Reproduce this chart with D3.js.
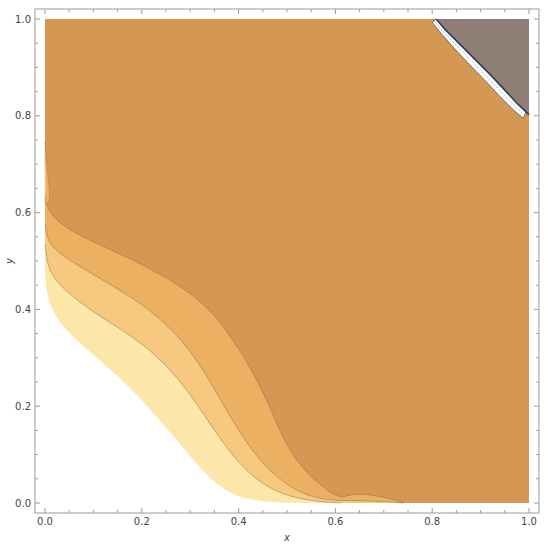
<!DOCTYPE html>
<html>
<head>
<meta charset="utf-8">
<script src="https://cdn.jsdelivr.net/npm/d3@7"></script>
<style>
  body { margin: 0; background: #fff; }
  svg { display: block; }
  text { font-family: "DejaVu Sans", sans-serif; fill: #444; }
</style>
</head>
<body>
<div id="chart"></div>
<script>
// contour boundaries, [x, y] in data units,
// each running from the left edge (x = 0) down to the bottom edge (y = 0)
var levelA = [[0,0.47],[0.003,0.44],[0.010,0.41],[0.025,0.38],[0.050,0.35],[0.090,0.315],
  [0.130,0.28],[0.175,0.24],[0.215,0.195],[0.255,0.150],[0.295,0.103],[0.330,0.062],
  [0.365,0.030],[0.405,0.010],[0.455,0.002],[0.52,0]];
var levelB = [[0,0.535],[0.004,0.50],[0.012,0.475],[0.030,0.450],[0.065,0.420],[0.110,0.388],
  [0.160,0.357],[0.210,0.322],[0.255,0.280],[0.295,0.232],[0.330,0.180],[0.365,0.128],
  [0.400,0.083],[0.440,0.045],[0.485,0.020],[0.530,0.008],[0.575,0.002],[0.61,0]];
var levelC = [[0,0.575],[0.004,0.55],[0.015,0.528],[0.045,0.505],[0.100,0.472],[0.160,0.437],
  [0.215,0.400],[0.260,0.360],[0.300,0.315],[0.335,0.262],[0.370,0.200],[0.405,0.142],
  [0.440,0.092],[0.480,0.052],[0.520,0.025],[0.560,0.010],[0.600,0.005],[0.640,0.005],
  [0.690,0.004],[0.740,0]];
var levelD = [[0,0.625],[0.010,0.600],[0.030,0.578],[0.070,0.554],[0.120,0.530],[0.180,0.503],
  [0.240,0.472],[0.295,0.438],[0.340,0.400],[0.372,0.360],[0.405,0.312],[0.428,0.272],
  [0.450,0.230],[0.471,0.184],[0.492,0.132],[0.521,0.085],[0.554,0.050],[0.585,0.024],
  [0.612,0.010],[0.625,0.016],[0.645,0.019],[0.680,0.016],[0.715,0.009],[0.740,0]];

// thin strip along the left edge above the dark level
var leftStrip = [[0,0.745],[0.003,0.71],[0.006,0.675],[0.009,0.645],[0.010,0.628],[0.005,0.62],[0,0.618]];
var leftStripInner = [[0,0.72],[0.002,0.68],[0.003,0.645],[0,0.63]];

// top right grey region and the white sliver below it
var greyEdge = [[0.808,1.0],[0.826,0.979],[0.857,0.948],[0.888,0.917],[0.919,0.886],
  [0.950,0.853],[0.977,0.824],[0.994,0.808],[1,0.802]];
var sliverEdge = [[0.800,0.993],[0.815,0.974],[0.845,0.940],[0.878,0.905],[0.910,0.872],
  [0.942,0.838],[0.970,0.810],[0.988,0.795]];

var levelColors = ["#fde6aa", "#f6c880", "#ecb062", "#d49754"];
var greyColor = "#8f7e76";

var xTicks = [0, 0.2, 0.4, 0.6, 0.8, 1.0];
var yTicks = [0, 0.2, 0.4, 0.6, 0.8, 1.0];

(function() {
    var W = 550, H = 548;
    var frame = { left: 35, right: 539, top: 9, bottom: 513 };
    var pad = 10 / 484;

    var x = d3.scaleLinear().domain([-pad, 1 + pad]).range([frame.left, frame.right]);
    var y = d3.scaleLinear().domain([-pad, 1 + pad]).range([frame.bottom, frame.top]);

    var svg = d3.select("#chart").append("svg")
        .attr("width", W).attr("height", H);

    var smooth = d3.line().x(function(d) { return x(d[0]); }).y(function(d) { return y(d[1]); })
        .curve(d3.curveBasis);
    var straight = d3.line().x(function(d) { return x(d[0]); }).y(function(d) { return y(d[1]); });

    // region above a level: top left corner, down the left edge, along the level, round the right side
    function regionAbove(pts) {
        var last = pts[pts.length - 1];
        return "M" + x(0) + "," + y(1) + "L" + x(0) + "," + y(pts[0][1]) +
            smooth(pts).replace(/^M/, "L") +
            "L" + x(last[0]) + "," + y(0) + "L" + x(1) + "," + y(0) + "L" + x(1) + "," + y(1) + "Z";
    }

    var plot = svg.append("g");

    [levelA, levelB, levelC, levelD].forEach(function(pts, i) {
        plot.append("path")
            .attr("d", regionAbove(pts))
            .attr("fill", levelColors[i]);
    });

    // contour lines
    [levelB, levelC, levelD].forEach(function(pts) {
        plot.append("path")
            .attr("d", smooth(pts))
            .attr("fill", "none")
            .attr("stroke", "#8a6a45")
            .attr("stroke-opacity", 0.6)
            .attr("stroke-width", 0.8);
    });

    plot.append("path")
        .attr("d", smooth(leftStrip) + "Z")
        .attr("fill", levelColors[2])
        .attr("stroke", "#8a6a45").attr("stroke-opacity", 0.5).attr("stroke-width", 0.6);
    plot.append("path")
        .attr("d", smooth(leftStripInner) + "Z")
        .attr("fill", levelColors[1]);

    // white sliver
    var sliver = greyEdge.slice(0, greyEdge.length - 1).concat(sliverEdge.slice().reverse());
    plot.append("path")
        .attr("d", straight(sliver) + "Z")
        .attr("fill", "#fff")
        .attr("stroke", "#555").attr("stroke-width", 0.8);
    plot.append("path")
        .attr("d", straight(sliverEdge.map(function(d, i) {
            var g = greyEdge[Math.min(i, greyEdge.length - 1)];
            return [(d[0] + g[0]) / 2, (d[1] + g[1]) / 2];
        })))
        .attr("fill", "none")
        .attr("stroke", "#888").attr("stroke-width", 0.8)
        .attr("stroke-dasharray", "1.5,2");

    // grey region
    plot.append("path")
        .attr("d", straight(greyEdge) + "L" + x(1) + "," + y(1) + "Z")
        .attr("fill", greyColor);
    plot.append("path")
        .attr("d", straight(greyEdge))
        .attr("fill", "none")
        .attr("stroke", "#2e3d63").attr("stroke-width", 1.6);

    // frame
    svg.append("rect")
        .attr("x", frame.left).attr("y", frame.top)
        .attr("width", frame.right - frame.left).attr("height", frame.bottom - frame.top)
        .attr("fill", "none").attr("stroke", "#9a9a9a").attr("stroke-width", 1);

    // ticks, pointing inward on all four sides
    var minor = d3.range(0, 1.0001, 0.05);
    var tg = svg.append("g").attr("stroke", "#9a9a9a").attr("stroke-width", 1);
    minor.forEach(function(v, i) {
        var len = (i % 4 === 0) ? 5 : 3;
        tg.append("line").attr("x1", x(v)).attr("x2", x(v)).attr("y1", frame.bottom).attr("y2", frame.bottom - len);
        tg.append("line").attr("x1", x(v)).attr("x2", x(v)).attr("y1", frame.top).attr("y2", frame.top + len);
        tg.append("line").attr("y1", y(v)).attr("y2", y(v)).attr("x1", frame.left).attr("x2", frame.left + len);
        tg.append("line").attr("y1", y(v)).attr("y2", y(v)).attr("x1", frame.right).attr("x2", frame.right - len);
    });

    svg.selectAll(".xl").data(xTicks).enter().append("text")
        .attr("x", function(d) { return x(d); })
        .attr("y", frame.bottom + 12)
        .attr("text-anchor", "middle")
        .attr("font-size", 10)
        .text(function(d) { return d.toFixed(1); });

    svg.selectAll(".yl").data(yTicks).enter().append("text")
        .attr("x", frame.left - 4)
        .attr("y", function(d) { return y(d) + 3.5; })
        .attr("text-anchor", "end")
        .attr("font-size", 10)
        .text(function(d) { return d.toFixed(1); });

    svg.append("text")
        .attr("x", (frame.left + frame.right) / 2)
        .attr("y", frame.bottom + 28)
        .attr("text-anchor", "middle")
        .attr("font-size", 10)
        .attr("font-style", "italic")
        .text("x");

    svg.append("text")
        .attr("transform", "translate(13," + ((frame.top + frame.bottom) / 2) + ") rotate(-90)")
        .attr("text-anchor", "middle")
        .attr("font-size", 10)
        .attr("font-style", "italic")
        .text("y");
})();
</script>
</body>
</html>
